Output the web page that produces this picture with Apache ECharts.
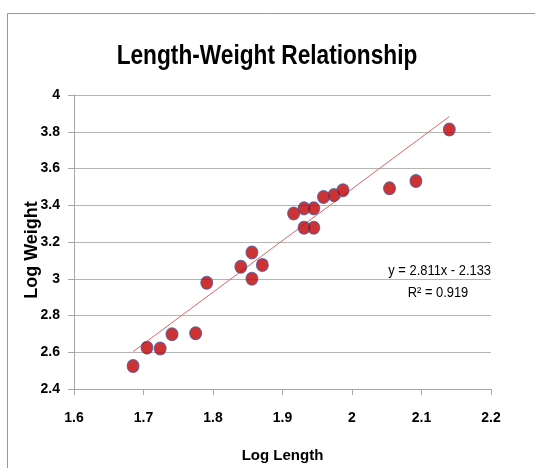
<!DOCTYPE html>
<html>
<head>
<meta charset="utf-8">
<script src="https://cdn.jsdelivr.net/npm/echarts@6/dist/echarts.min.js"></script>
<style>
html,body{margin:0;padding:0;background:#fff;}
#chart{width:535px;height:468px;}
</style>
</head>
<body>
<div id="chart"></div>
<script>
// Data
var logLength = [1.685, 1.705, 1.724, 1.741, 1.775, 1.791, 1.840, 1.856, 1.856, 1.871,
                 1.916, 1.931, 1.931, 1.945, 1.945, 1.959, 1.974, 1.987, 2.054, 2.092, 2.140];
var logWeight = [2.525, 2.625, 2.620, 2.698, 2.703, 2.978, 3.065, 3.143, 3.000, 3.075,
                 3.355, 3.383, 3.278, 3.383, 3.278, 3.445, 3.455, 3.482, 3.492, 3.532, 3.812];
var trendSlope = 2.811;
var trendIntercept = -2.133;
var trendX = [1.685, 2.140];
var xTicks = [1.6, 1.7, 1.8, 1.9, 2, 2.1, 2.2];
var yTicks = [2.4, 2.6, 2.8, 3, 3.2, 3.4, 3.6, 3.8, 4];
var titleText = 'Length-Weight Relationship';
var eqText = 'y = 2.811x - 2.133';
var r2Text = 'R\u00B2 = 0.919';

var points = logLength.map(function (x, i) { return [x, logWeight[i]]; });
var trend = trendX.map(function (x) { return [x, trendSlope * x + trendIntercept]; });

var FONT = '"Liberation Sans", Arial, sans-serif';

var chart = echarts.init(document.getElementById('chart'), null, {renderer: 'canvas'});
chart.setOption({
  animation: false,
  backgroundColor: '#ffffff',
  grid: {left: 74, right: 44, top: 95, bottom: 79, containLabel: false},
  xAxis: {
    type: 'value',
    min: 1.6, max: 2.2, interval: 0.1,
    name: 'Log Length',
    nameLocation: 'middle',
    nameGap: 59,
    nameTextStyle: {fontFamily: FONT, fontSize: 15, fontWeight: 'bold', color: '#000'},
    axisLine: {show: true, onZero: false, lineStyle: {color: '#a6a6a6', width: 1}},
    axisTick: {show: true, inside: false, length: 6, lineStyle: {color: '#a6a6a6'}},
    splitLine: {show: false},
    axisLabel: {
      margin: 22,
      fontFamily: FONT, fontSize: 14, fontWeight: 'bold', color: '#000',
      formatter: function (v) { return String(+v.toFixed(1)); }
    }
  },
  yAxis: {
    type: 'value',
    min: 2.4, max: 4, interval: 0.2,
    axisLine: {show: true, onZero: false, lineStyle: {color: '#a6a6a6', width: 1}},
    axisTick: {show: true, inside: false, length: 6, lineStyle: {color: '#a6a6a6'}},
    splitLine: {show: true, lineStyle: {color: '#b4b4b4', width: 1}},
    axisLabel: {
      margin: 14,
      fontFamily: FONT, fontSize: 14, fontWeight: 'bold', color: '#000',
      formatter: function (v) { return String(+v.toFixed(1)); }
    }
  },
  graphic: [
    {type: 'rect', silent: true, z: -10,
     shape: {x: 7.5, y: 13.5, width: 600, height: 600},
     style: {fill: 'none', stroke: '#9a9a9a', lineWidth: 1}},
    {type: 'text', silent: true, x: 267, y: 57, scaleX: 0.84,
     style: {text: titleText, fontFamily: FONT, fontSize: 27, fontWeight: 'bold',
             fill: '#000', align: 'center', verticalAlign: 'middle'}},
    {type: 'text', silent: true, x: 32, y: 250, rotation: Math.PI / 2,
     style: {text: 'Log Weight', fontFamily: FONT, fontSize: 18, fontWeight: 'bold',
             fill: '#000', align: 'center', verticalAlign: 'middle'}},
    {type: 'text', silent: true, x: 491, y: 271, scaleX: 0.86,
     style: {text: eqText, fontFamily: FONT, fontSize: 15, fill: '#000',
             align: 'right', verticalAlign: 'middle'}},
    {type: 'text', silent: true, x: 438, y: 293, scaleX: 0.86,
     style: {text: r2Text, fontFamily: FONT, fontSize: 15, fill: '#000',
             align: 'center', verticalAlign: 'middle'}}
  ],
  series: [
    {
      type: 'line',
      data: trend,
      symbol: 'none',
      lineStyle: {color: '#e06666', width: 1},
      z: 2
    },
    {
      type: 'scatter',
      data: points,
      symbol: 'circle',
      symbolSize: [12, 13],
      itemStyle: {color: '#c00000', borderColor: '#4a5aa0', borderWidth: 1},
      z: 3
    }
  ]
});
</script>
</body>
</html>
